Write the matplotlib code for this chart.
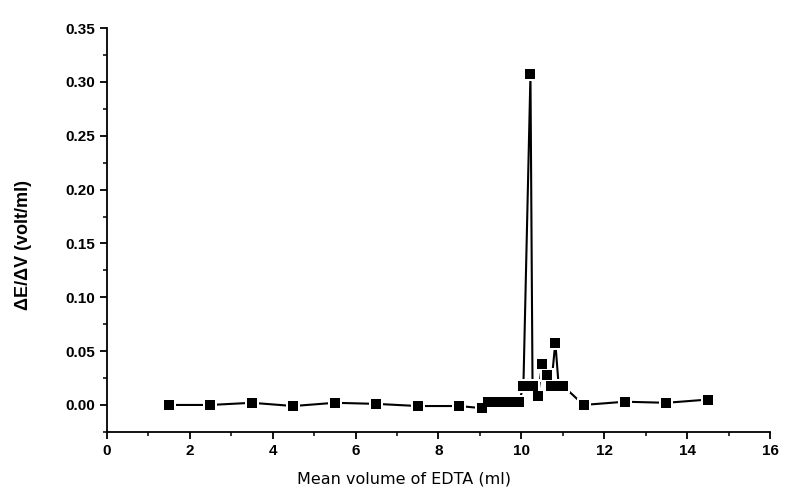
import numpy as np
import matplotlib.pyplot as plt
from matplotlib.ticker import MultipleLocator

plt.rcParams['font.family'] = ['Liberation Sans', 'DejaVu Sans']

# Mean volume of EDTA (ml) and dE/dV (volt/ml)
volume = [1.5, 2.5, 3.5, 4.5, 5.5, 6.5, 7.5, 8.5,
          9.05, 9.2, 9.4, 9.6, 9.8, 9.95,
          10.05, 10.22, 10.27, 10.4, 10.5, 10.62, 10.72, 10.82, 10.9, 11.0,
          11.5, 12.5, 13.5, 14.5]
dEdV = [0.000, 0.000, 0.002, -0.001, 0.002, 0.001, -0.001, -0.001,
        -0.003, 0.003, 0.003, 0.003, 0.003, 0.003,
        0.018, 0.307, 0.018, 0.008, 0.038, 0.028, 0.018, 0.058, 0.018, 0.018,
        0.000, 0.003, 0.002, 0.005]

fig = plt.figure(figsize=(7.85, 4.93), dpi=100)
ax = fig.add_axes([0.136, 0.124, 0.845, 0.819])
ax.plot(volume, dEdV, '-', color='black', lw=1.5, zorder=2)
# white halo around markers gives the gap between line and symbol
ax.plot(volume, dEdV, 's', color='white', ms=10, mew=0, zorder=3)
ax.plot(volume, dEdV, 's', color='black', ms=6.5, mew=0, zorder=4)

ax.set_xlim(0, 16)
ax.set_ylim(-0.025, 0.35)
ax.xaxis.set_major_locator(MultipleLocator(2))
ax.xaxis.set_minor_locator(MultipleLocator(1))
ax.yaxis.set_major_locator(MultipleLocator(0.05))
ax.yaxis.set_minor_locator(MultipleLocator(0.025))
ax.yaxis.set_major_formatter(plt.FormatStrFormatter('%.2f'))
ax.spines['top'].set_visible(False)
ax.spines['right'].set_visible(False)
ax.spines['left'].set_linewidth(1.3)
ax.spines['bottom'].set_linewidth(1.3)
ax.tick_params(which='major', direction='out', length=5, width=1.3, labelsize=11)
ax.tick_params(which='minor', direction='out', length=3, width=1.1)
for lab in ax.get_xticklabels() + ax.get_yticklabels():
    lab.set_fontweight('bold')

ax.set_xlabel('Mean volume of EDTA (ml)', fontsize=11.5, family='DejaVu Sans')
ax.xaxis.set_label_coords(0.448, -0.098)
ax.set_ylabel('ΔE/ΔV (volt/ml)', fontsize=13, fontweight='bold')
ax.yaxis.set_label_coords(-0.113, 0.463)

fig.savefig('out.png', dpi=100)
